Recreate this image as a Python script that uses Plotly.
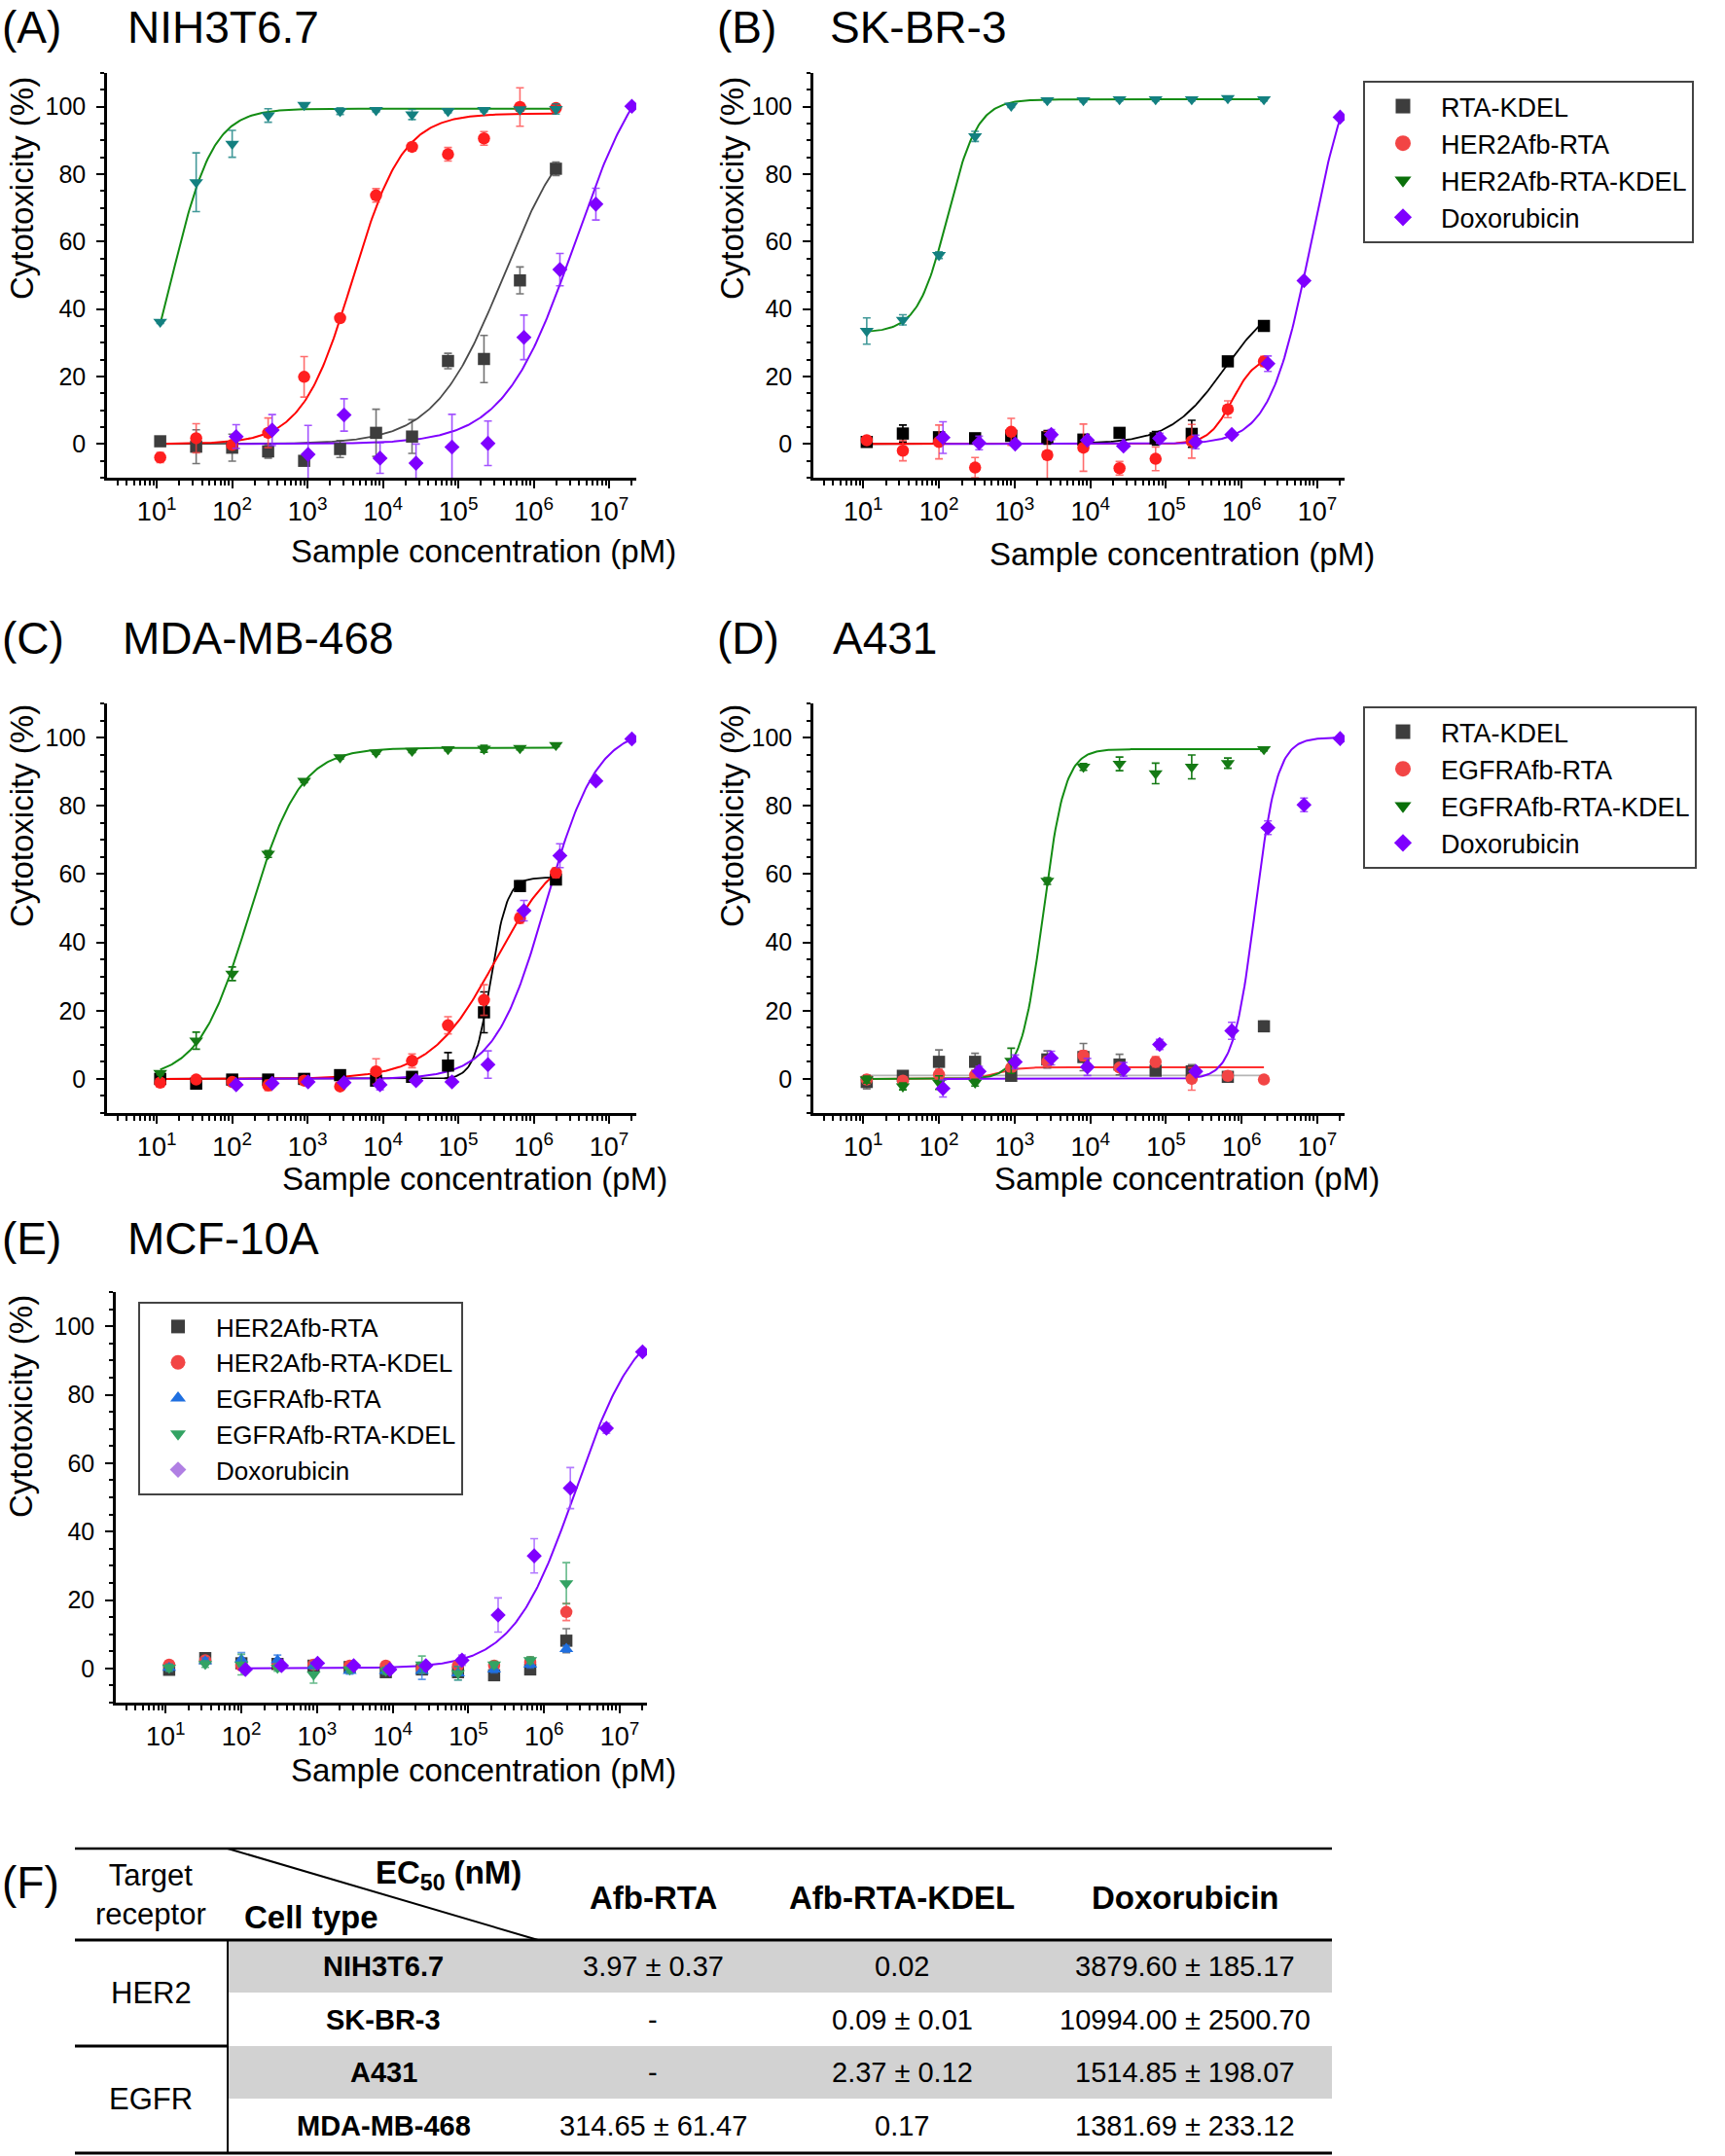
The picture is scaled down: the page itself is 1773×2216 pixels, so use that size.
import numpy as np
import plotly.graph_objects as go

W, H = 1773, 2216
FONT = "Liberation Sans, Arial, Helvetica, sans-serif"


def px(x):
    return x / W


def py(y):
    return 1 - y / H


# ---------------- data ----------------
CONC_PROT = [11.1, 33.3, 100, 300, 900, 2700, 8100, 24300, 72900, 218700, 656100, 1968300]
CONC_DOX = [113, 339, 1016, 3048, 9145, 27435, 82305, 246914, 740741, 2222222, 6666667, 20000000]

# (A) NIH3T6.7
A_RTAKDEL_Y = [0.8, -0.8, -1.1, -2.2, -5.0, -1.5, 3.3, 2.2, 24.6, 25.2, 48.5, 81.6]
A_RTAKDEL_E = [1.0, 5.0, 4.0, 2.0, 1.0, 2.5, 7.0, 5.0, 2.3, 7.0, 4.0, 2.0]
A_HER2RTA_Y = [-4.0, 1.7, -0.3, 3.3, 19.9, 37.3, 73.7, 88.1, 85.9, 90.6, 99.9, 99.6]
A_HER2RTA_E = [1.5, 4.3, 1.0, 4.4, 6.0, 1.0, 2.0, 1.0, 2.0, 2.0, 5.7, 1.0]
A_HER2KDEL_Y = [36.2, 77.6, 89.0, 97.4, 100.5, 98.7, 99.0, 97.7, 98.7, 99.0, 99.2, 99.3]
A_HER2KDEL_E = [0.5, 8.7, 4.0, 2.0, 0.5, 1.0, 0.5, 1.5, 0.5, 0.5, 0.5, 1.5]
A_DOX_Y = [2.2, 4.1, -3.1, 8.6, -4.2, -5.7, -0.9, 0.2, 31.6, 51.7, 71.1, 100.1]
A_DOX_E = [3.5, 4.6, 8.6, 4.8, 4.5, 5.7, 9.7, 6.6, 6.6, 4.8, 4.7, 0.5]

# (B) SK-BR-3
B_RTAKDEL_Y = [0.6, 3.1, 2.0, 1.7, 2.4, 2.0, 1.3, 3.3, 1.7, 3.0, 24.5, 35.0]
B_RTAKDEL_E = [1.0, 2.5, 1.0, 1.0, 1.0, 2.0, 1.0, 1.0, 2.0, 4.0, 1.0, 1.0]
B_HER2RTA_Y = [1.1, -2.0, 0.6, -7.0, 3.6, -3.3, -1.1, -7.2, -4.4, 0.8, 10.3, 24.5]
B_HER2RTA_E = [1.0, 3.0, 5.0, 3.0, 4.0, 7.0, 7.0, 2.0, 3.5, 5.0, 2.5, 1.5]
B_HER2KDEL_Y = [33.5, 36.8, 56.0, 91.2, 100.3, 101.9, 101.9, 102.2, 102.2, 102.2, 102.5, 102.2]
B_HER2KDEL_E = [3.9, 1.5, 1.0, 1.5, 0.5, 0.5, 0.5, 0.5, 0.5, 0.5, 0.5, 0.5]
B_DOX_Y = [1.9, 0.3, 0.0, 2.8, 1.1, -0.6, 1.7, 0.6, 2.8, 23.8, 48.4, 96.9]
B_DOX_E = [4.7, 2.0, 0.5, 1.5, 0.5, 0.5, 1.5, 2.0, 0.5, 2.3, 0.5, 0.5]

# (C) MDA-MB-468
C_RTAKDEL_Y = [0.0, -1.4, -0.2, -0.2, 0.0, 1.1, -0.5, 0.6, 3.9, 19.5, 56.5, 58.4]
C_RTAKDEL_E = [0.5, 0.5, 0.5, 0.5, 0.5, 1.0, 0.5, 0.5, 3.8, 6.0, 1.5, 1.0]
C_EGFRRTA_Y = [-1.1, -0.2, -0.9, -1.9, -0.5, -2.2, 2.2, 5.3, 15.7, 23.1, 47.1, 60.4]
C_EGFRRTA_E = [0.5, 0.5, 0.5, 1.5, 0.5, 0.5, 3.7, 2.0, 2.5, 4.5, 1.5, 1.5]
C_EGFRKDEL_Y = [1.7, 11.2, 30.8, 65.9, 87.3, 94.2, 95.6, 96.1, 96.6, 96.7, 96.9, 97.8]
C_EGFRKDEL_E = [0.5, 2.5, 2.0, 1.0, 0.5, 0.5, 0.5, 0.5, 0.5, 1.0, 0.5, 0.5]
C_DOX_Y = [-1.7, -1.3, -0.9, -1.1, -1.7, -0.5, -0.9, 4.2, 49.3, 65.4, 87.3, 99.6]
C_DOX_E = [0.5, 0.5, 0.5, 0.5, 1.5, 0.5, 0.5, 4.0, 3.0, 3.5, 0.5, 0.5]

# (D) A431
D_RTAKDEL_Y = [-0.9, 0.9, 5.0, 5.0, 0.9, 5.7, 6.4, 4.2, 2.4, 2.2, 0.6, 15.4]
D_RTAKDEL_E = [2.0, 1.0, 3.5, 2.5, 1.0, 2.5, 4.0, 3.0, 1.0, 2.0, 1.0, 1.5]
D_EGFRRTA_Y = [-0.2, -0.5, 1.3, 1.1, 3.3, 5.0, 6.8, 3.3, 5.0, 0.0, 0.9, -0.2]
D_EGFRRTA_E = [1.0, 1.0, 1.5, 1.0, 1.0, 1.5, 1.5, 1.0, 1.5, 3.3, 1.0, 1.0]
D_EGFRKDEL_Y = [-0.2, -2.2, -1.1, -1.1, 5.3, 58.0, 91.4, 92.3, 89.5, 91.4, 92.5, 96.6]
D_EGFRKDEL_E = [1.0, 1.0, 2.0, 1.0, 3.7, 1.0, 1.0, 2.0, 3.0, 3.5, 1.5, 0.5]
D_DOX_Y = [-2.8, 2.2, 5.0, 6.1, 3.5, 2.8, 10.1, 2.2, 14.1, 73.6, 80.3, 99.7]
D_DOX_E = [2.5, 1.5, 2.0, 2.0, 2.5, 2.0, 1.5, 0.5, 2.5, 2.0, 2.0, 0.5]

# (E) MCF-10A
E_HER2RTA_Y = [-0.4, 3.0, 1.5, 1.3, 0.8, 0.4, -1.1, -0.3, -1.1, -2.0, -0.3, 8.1]
E_HER2RTA_E = [1.0, 1.0, 1.0, 1.0, 1.0, 1.0, 1.0, 1.0, 1.0, 1.0, 1.0, 3.5]
E_HER2KDEL_Y = [1.1, 2.4, 0.8, 1.1, 1.1, 0.8, 0.8, 0.0, 0.8, 0.8, 1.9, 16.5]
E_HER2KDEL_E = [1.0, 1.0, 1.0, 1.0, 1.0, 1.0, 1.0, 1.0, 1.0, 1.0, 1.0, 2.5]
E_EGFRRTA_Y = [0.2, 2.1, 2.6, 2.4, 0.8, -0.7, -0.7, -0.7, -1.4, -0.3, 1.1, 5.7]
E_EGFRRTA_E = [1.0, 1.0, 2.0, 1.5, 1.0, 1.0, 1.0, 2.5, 2.0, 1.0, 1.0, 1.0]
E_EGFRKDEL_Y = [0.2, 1.3, 1.1, 0.2, -1.8, -0.3, -0.7, 1.1, -1.4, 1.1, 2.4, 24.9]
E_EGFRKDEL_E = [1.0, 1.0, 3.0, 1.0, 2.5, 1.0, 1.0, 2.5, 2.0, 1.0, 1.0, 6.0]
E_DOX_Y = [-0.3, 0.8, 1.5, 0.8, -0.3, 0.8, 2.4, 15.6, 32.9, 52.7, 70.2, 92.5]
E_DOX_E = [0.5, 0.5, 0.5, 0.5, 0.5, 0.5, 1.5, 5.0, 5.0, 6.0, 1.5, 0.5]

# 4-parameter logistic fits: [bottom, top, EC50 (pM), Hill slope]
FIT_A_RTAKDEL = [0, 100, 4.0e5, 0.95]
FIT_A_HER2RTA = [0, 98, 3970, 1.3]
FIT_A_HER2KDEL = [0, 99.4, 16, 1.6]
FIT_A_DOX = [0, 120, 3.55e6, 0.92]
FIT_B_RTAKDEL = [0, 45, 6.0e5, 1.2]
FIT_B_HER2RTA = [0, 26, 7.5e5, 2.8]
FIT_B_HER2KDEL = [33, 102.2, 130, 2.2]
FIT_B_DOX = [0, 120, 8.3e6, 1.6]
FIT_C_RTAKDEL = [0, 59, 2.7e5, 4.0]
FIT_C_EGFRRTA = [0, 70, 3.15e5, 1.0]
FIT_C_EGFRKDEL = [0, 97, 170, 1.3]
FIT_C_DOX = [0, 103, 1.45e6, 1.28]
FIT_D_RTAKDEL = [1.0, 1.0, 1.0e4, 1.0]
FIT_D_EGFRRTA = [0, 3.4, 600, 3.0]
FIT_D_EGFRKDEL = [0, 96.6, 2370, 3.0]
FIT_D_DOX = [0, 100, 1.515e6, 3.0]
FIT_E_DOX = [0, 104, 2.6e6, 1.05]

X_TICK_VALS = [1e1, 1e2, 1e3, 1e4, 1e5, 1e6, 1e7]
X_TICK_TEXT = ["10<sup>1</sup>", "10<sup>2</sup>", "10<sup>3</sup>", "10<sup>4</sup>",
               "10<sup>5</sup>", "10<sup>6</sup>", "10<sup>7</sup>"]
Y_TICK_VALS = [0, 20, 40, 60, 80, 100]

# table (F)
TABLE_HEADERS = ["Afb-RTA", "Afb-RTA-KDEL", "Doxorubicin"]
TABLE_RECEPTORS = ["HER2", "EGFR"]
TABLE_CELLS = ["NIH3T6.7", "SK-BR-3", "A431", "MDA-MB-468"]
TABLE_AFB_RTA = ["3.97 ± 0.37", "-", "-", "314.65 ± 61.47"]
TABLE_AFB_RTA_KDEL = ["0.02", "0.09 ± 0.01", "2.37 ± 0.12", "0.17"]
TABLE_DOX = ["3879.60 ± 185.17", "10994.00 ± 2500.70", "1514.85 ± 198.07", "1381.69 ± 233.12"]

# ---------------- styles ----------------
GRAY = "#3d3d3d"
BLACK = "#000000"
RED = "#ff1f1f"
TEAL = "#138080"
GREEN_LINE = "#138c13"
GREEN = "#157a15"
PURPLE = "#7f00ff"
LRED = "#f24545"
BLUE = "#1f6fe0"
MGREEN = "#33a363"
LAVENDER = "#b07fe3"
LGRAY = "#b5b5b5"

SIZES = {"square": 12.5, "circle": 12.5, "triangle-down": 12.5, "triangle-up": 12.5, "diamond": 12}

fig = go.Figure()


def logistic(x, p):
    b, t, ec, h = p
    return b + (t - b) / (1 + (ec / x) ** h)


def add_fit(ax, xs, p, color, width=2):
    xg = np.logspace(np.log10(xs[0]), np.log10(xs[-1]), 300)
    fig.add_trace(go.Scatter(x=xg, y=logistic(xg, p), mode="lines",
                             line=dict(color=color, width=width),
                             xaxis="x" + ax, yaxis="y" + ax,
                             showlegend=False, hoverinfo="skip"))


def add_pts(ax, xs, ys, es, symbol, color, ecolor=None):
    fig.add_trace(go.Scatter(x=xs, y=ys, mode="markers",
                             marker=dict(symbol=symbol, size=SIZES[symbol], color=color,
                                         line=dict(width=0)),
                             error_y=dict(type="data", array=es, visible=True,
                                          color=ecolor or color, thickness=1.6, width=4),
                             xaxis="x" + ax, yaxis="y" + ax,
                             showlegend=False))


def add_legend_entry(ax, legend, name, symbol, color, size):
    fig.add_trace(go.Scatter(x=[None], y=[None], mode="markers", name=name,
                             marker=dict(symbol=symbol, size=size, color=color),
                             xaxis="x" + ax, yaxis="y" + ax,
                             legend=legend, showlegend=True))


A, B, C, D, E = "", "2", "3", "4", "5"

add_fit(A, CONC_PROT, FIT_A_RTAKDEL, "#4a4a4a", 1.8)
add_fit(A, CONC_PROT, FIT_A_HER2RTA, "#ff0000")
add_fit(A, CONC_PROT, FIT_A_HER2KDEL, GREEN_LINE)
add_fit(A, CONC_DOX, FIT_A_DOX, PURPLE)
add_pts(A, CONC_PROT, A_RTAKDEL_Y, A_RTAKDEL_E, "square", GRAY, "rgba(70,70,70,0.75)")
add_pts(A, CONC_PROT, A_HER2RTA_Y, A_HER2RTA_E, "circle", RED, "rgba(255,60,60,0.75)")
add_pts(A, CONC_PROT, A_HER2KDEL_Y, A_HER2KDEL_E, "triangle-down", TEAL, "rgba(19,128,128,0.8)")
add_pts(A, CONC_DOX, A_DOX_Y, A_DOX_E, "diamond", PURPLE, "rgba(140,40,255,0.8)")

add_fit(B, CONC_PROT, FIT_B_RTAKDEL, BLACK, 1.8)
add_fit(B, CONC_PROT, FIT_B_HER2RTA, "#ff0000")
add_fit(B, CONC_PROT, FIT_B_HER2KDEL, GREEN_LINE)
add_fit(B, CONC_DOX, FIT_B_DOX, PURPLE)
add_pts(B, CONC_PROT, B_RTAKDEL_Y, B_RTAKDEL_E, "square", BLACK)
add_pts(B, CONC_PROT, B_HER2RTA_Y, B_HER2RTA_E, "circle", RED, "rgba(255,60,60,0.75)")
add_pts(B, CONC_PROT, B_HER2KDEL_Y, B_HER2KDEL_E, "triangle-down", TEAL, "rgba(19,128,128,0.8)")
add_pts(B, CONC_DOX, B_DOX_Y, B_DOX_E, "diamond", PURPLE, "rgba(140,40,255,0.8)")
add_legend_entry(B, "legend", "RTA-KDEL", "square", GRAY, 15)
add_legend_entry(B, "legend", "HER2Afb-RTA", "circle", LRED, 16)
add_legend_entry(B, "legend", "HER2Afb-RTA-KDEL", "triangle-down", "#0a700a", 15)
add_legend_entry(B, "legend", "Doxorubicin", "diamond", PURPLE, 14)

add_fit(C, CONC_PROT, FIT_C_RTAKDEL, BLACK, 1.8)
add_fit(C, CONC_PROT, FIT_C_EGFRRTA, "#ff0000")
add_fit(C, CONC_PROT, FIT_C_EGFRKDEL, GREEN_LINE)
add_fit(C, CONC_DOX, FIT_C_DOX, PURPLE)
add_pts(C, CONC_PROT, C_RTAKDEL_Y, C_RTAKDEL_E, "square", BLACK)
add_pts(C, CONC_PROT, C_EGFRRTA_Y, C_EGFRRTA_E, "circle", RED, "rgba(255,60,60,0.75)")
add_pts(C, CONC_PROT, C_EGFRKDEL_Y, C_EGFRKDEL_E, "triangle-down", GREEN)
add_pts(C, CONC_DOX, C_DOX_Y, C_DOX_E, "diamond", PURPLE, "rgba(140,40,255,0.8)")

add_fit(D, CONC_PROT, FIT_D_RTAKDEL, LGRAY, 1.8)
add_fit(D, CONC_PROT, FIT_D_EGFRRTA, "#ff3030")
add_fit(D, CONC_PROT, FIT_D_EGFRKDEL, GREEN_LINE)
add_fit(D, CONC_DOX, FIT_D_DOX, PURPLE)
add_pts(D, CONC_PROT, D_RTAKDEL_Y, D_RTAKDEL_E, "square", GRAY, "rgba(70,70,70,0.75)")
add_pts(D, CONC_PROT, D_EGFRRTA_Y, D_EGFRRTA_E, "circle", LRED, "rgba(255,60,60,0.75)")
add_pts(D, CONC_PROT, D_EGFRKDEL_Y, D_EGFRKDEL_E, "triangle-down", GREEN)
add_pts(D, CONC_DOX, D_DOX_Y, D_DOX_E, "diamond", PURPLE, "rgba(140,40,255,0.8)")
add_legend_entry(D, "legend2", "RTA-KDEL", "square", GRAY, 15)
add_legend_entry(D, "legend2", "EGFRAfb-RTA", "circle", LRED, 16)
add_legend_entry(D, "legend2", "EGFRAfb-RTA-KDEL", "triangle-down", "#0a700a", 15)
add_legend_entry(D, "legend2", "Doxorubicin", "diamond", PURPLE, 14)

add_fit(E, CONC_DOX, FIT_E_DOX, PURPLE)
add_pts(E, CONC_PROT, E_HER2RTA_Y, E_HER2RTA_E, "square", GRAY, "rgba(70,70,70,0.7)")
add_pts(E, CONC_PROT, E_HER2KDEL_Y, E_HER2KDEL_E, "circle", LRED, "rgba(255,60,60,0.7)")
add_pts(E, CONC_PROT, E_EGFRRTA_Y, E_EGFRRTA_E, "triangle-up", BLUE, "rgba(31,111,224,0.7)")
add_pts(E, CONC_PROT, E_EGFRKDEL_Y, E_EGFRKDEL_E, "triangle-down", MGREEN, "rgba(51,163,99,0.75)")
add_pts(E, CONC_DOX, E_DOX_Y, E_DOX_E, "diamond", PURPLE, "rgba(160,90,255,0.8)")
add_legend_entry(E, "legend3", "HER2Afb-RTA", "square", GRAY, 14)
add_legend_entry(E, "legend3", "HER2Afb-RTA-KDEL", "circle", LRED, 15)
add_legend_entry(E, "legend3", "EGFRAfb-RTA", "triangle-up", BLUE, 14)
add_legend_entry(E, "legend3", "EGFRAfb-RTA-KDEL", "triangle-down", MGREEN, 14)
add_legend_entry(E, "legend3", "Doxorubicin", "diamond", LAVENDER, 13)

# ---------------- axes ----------------
minor_x = [m * 10 ** k for k in range(0, 8) for m in range(2, 10)
           if 10 ** 0.34 <= m * 10 ** k <= 10 ** 7.36]

PANELS = {
    A: ((110, 654), (75, 491)),
    B: ((836, 1382), (75, 491)),
    C: ((110, 654), (723, 1144)),
    D: ((836, 1382), (723, 1144)),
    E: ((119, 665), (1328, 1750)),
}

layout_axes = {}
for key, ((x0, x1), (y0, y1)) in PANELS.items():
    n = key if key else ""
    layout_axes["xaxis" + n] = dict(
        type="log", range=[0.34, 7.36], domain=[px(x0), px(x1)],
        anchor="y" + n, tickmode="array", tickvals=X_TICK_VALS, ticktext=X_TICK_TEXT,
        showline=True, linewidth=2.5, linecolor="black", mirror=False,
        ticks="outside", ticklen=8, tickwidth=2, tickcolor="black",
        minor=dict(tickmode="array", tickvals=minor_x, ticks="outside", ticklen=5,
                   tickwidth=1.5, tickcolor="black", showgrid=False),
        showgrid=False, zeroline=False, ticklabelstandoff=1,
        tickfont=dict(size=27, family=FONT, color="black"),
    )
    layout_axes["yaxis" + n] = dict(
        range=[-10, 110], domain=[py(y1), py(y0)], anchor="x" + n,
        tickmode="array", tickvals=Y_TICK_VALS,
        showline=True, linewidth=2.5, linecolor="black", mirror=False,
        ticks="outside", ticklen=8, tickwidth=2, tickcolor="black",
        minor=dict(dtick=5, tick0=0, ticks="outside", ticklen=4, tickwidth=1.5,
                   tickcolor="black", showgrid=False),
        showgrid=False, zeroline=False, ticklabelstandoff=6,
        tickfont=dict(size=25, family=FONT, color="black"),
    )

# ---------------- annotations ----------------
ann = []


def text(x, y, s, size, xanchor="left", yanchor="middle", bold=False, angle=0):
    if bold:
        s = "<b>" + s + "</b>"
    ann.append(dict(x=px(x), y=py(y), xref="paper", yref="paper", text=s, showarrow=False,
                    xanchor=xanchor, yanchor=yanchor, textangle=angle,
                    font=dict(size=size, family=FONT, color="black")))


# (label, label x, cell line, cell-line x, y, vertical anchor)
PANEL_TITLES = [("(A)", 0, "NIH3T6.7", 129, 0, "top"), ("(B)", 735, "SK-BR-3", 851, 0, "top"),
                ("(C)", 0, "MDA-MB-468", 124, 656, "middle"), ("(D)", 735, "A431", 854, 656, "middle"),
                ("(E)", 0, "MCF-10A", 129, 1273, "middle")]
for lab, lx, name, nx, ty, va in PANEL_TITLES:
    text(lx, ty, lab, 46, yanchor=va)
    text(nx, ty, name, 46, yanchor=va)
text(0, 1935, "(F)", 46)

XTITLE_POS = [(497, 567), (1215, 569), (488, 1211), (1220, 1211), (497, 1819)]
YTITLE_POS = [(22, 194), (752, 194), (22, 839), (752, 839), (22, 1446)]
for (xx, yy) in XTITLE_POS:
    text(xx, yy, "Sample concentration (pM)", 33, xanchor="center")
for (xx, yy) in YTITLE_POS:
    text(xx, yy, "Cytotoxicity (%)", 33, xanchor="center", angle=-90)

# ---------------- table (F) ----------------
shapes = []
T_LEFT, T_RIGHT, T_VLINE = 77, 1369, 234
T_TOP, T_HEAD = 1900, 1994
ROW_EDGES = [1994, 2048, 2103, 2157, 2213]
COL_CENTERS = [394, 671, 927, 1218]


def line(x0, y0, x1, y1, w):
    shapes.append(dict(type="line", xref="paper", yref="paper", x0=px(x0), y0=py(y0),
                       x1=px(x1), y1=py(y1), line=dict(color="black", width=w)))


for r in (0, 2):
    shapes.append(dict(type="rect", xref="paper", yref="paper", x0=px(T_VLINE),
                       x1=px(T_RIGHT), y0=py(ROW_EDGES[r]), y1=py(ROW_EDGES[r + 1]),
                       fillcolor="#d2d2d2", line=dict(width=0), layer="below"))
line(T_LEFT, T_TOP, T_RIGHT, T_TOP, 2.5)
line(T_LEFT, T_HEAD, T_RIGHT, T_HEAD, 3)
line(T_LEFT, ROW_EDGES[-1], T_RIGHT, ROW_EDGES[-1], 3)
line(T_VLINE, T_HEAD, T_VLINE, ROW_EDGES[-1], 2)
line(T_LEFT, ROW_EDGES[2], T_VLINE, ROW_EDGES[2], 3)
line(T_VLINE, T_TOP, 553, T_HEAD, 2)

text(155, 1947, "Target<br>receptor", 31, xanchor="center")
text(320, 1970, "Cell type", 33, xanchor="center", bold=True)
text(461, 1927, "EC<sub>50</sub> (nM)", 33, xanchor="center", bold=True)
for hdr, cx in zip(TABLE_HEADERS, COL_CENTERS[1:]):
    text(cx, 1950, hdr, 33, xanchor="center", bold=True)

for i in range(4):
    cy = (ROW_EDGES[i] + ROW_EDGES[i + 1]) / 2
    text(COL_CENTERS[0], cy, TABLE_CELLS[i], 29, xanchor="center", bold=True)
    text(COL_CENTERS[1], cy, TABLE_AFB_RTA[i], 29, xanchor="center")
    text(COL_CENTERS[2], cy, TABLE_AFB_RTA_KDEL[i], 29, xanchor="center")
    text(COL_CENTERS[3], cy, TABLE_DOX[i], 29, xanchor="center")
for j, rec in enumerate(TABLE_RECEPTORS):
    text(155, ROW_EDGES[2 * j + 1], rec, 31, xanchor="center")

LEG_COMMON = dict(xanchor="left", yanchor="top", bgcolor="white", bordercolor="#444444",
                  borderwidth=2, itemwidth=68, traceorder="normal", tracegroupgap=0)

fig.update_layout(
    width=W, height=H, margin=dict(l=0, r=0, t=0, b=0),
    paper_bgcolor="white", plot_bgcolor="white",
    font=dict(family=FONT, color="black"),
    annotations=ann, shapes=shapes,
    legend=dict(x=px(1401), y=py(83), font=dict(size=27, family=FONT, color="black"), **LEG_COMMON),
    legend2=dict(x=px(1401), y=py(726), font=dict(size=27, family=FONT, color="black"), **LEG_COMMON),
    legend3=dict(x=px(142), y=py(1338), font=dict(size=26, family=FONT, color="black"), **LEG_COMMON),
    **layout_axes,
)

fig.write_html("out.html", config={"displayModeBar": False},
               post_script="document.body.style.margin='0px';")
